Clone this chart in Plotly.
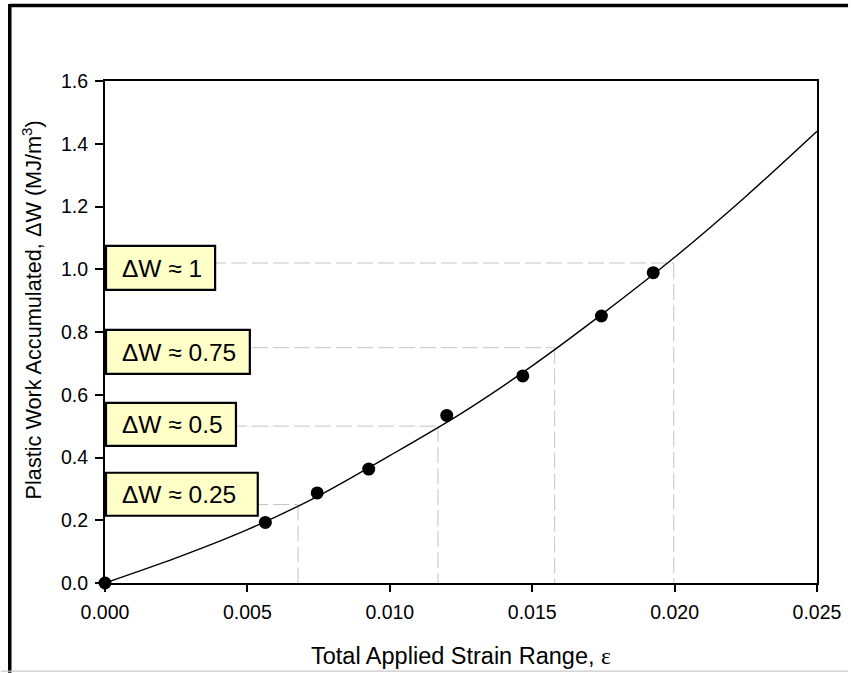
import plotly.graph_objects as go

# Measured points: total applied strain range vs accumulated plastic work (MJ/m^3)
pts_strain = [0.0, 0.00563, 0.00745, 0.00926, 0.0120, 0.01467, 0.01743, 0.01925]
pts_work = [0.0, 0.193, 0.287, 0.363, 0.534, 0.660, 0.851, 0.989]

# Fitted trend curve, sampled along the strain axis
fit_strain = [0.0, 0.0025, 0.005, 0.0075, 0.010, 0.0125, 0.015, 0.0175, 0.020, 0.0225, 0.025]
fit_work = [0.0, 0.080, 0.170, 0.278, 0.406, 0.540, 0.692, 0.860, 1.038, 1.232, 1.44]

# Work levels and the strain at which the curve reaches them
guide_work = [0.25, 0.5, 0.75, 1.02]
guide_strain = [0.00678, 0.01169, 0.01579, 0.01997]
guide_labels = ["ΔW ≈ 0.25", "ΔW ≈ 0.5", "ΔW ≈ 0.75", "ΔW ≈ 1"]

x_ticks = [0.0, 0.005, 0.010, 0.015, 0.020, 0.025]
y_ticks = [0.0, 0.2, 0.4, 0.6, 0.8, 1.0, 1.2, 1.4, 1.6]

W, H = 854, 673
L, R, T, B = 105, 822.7, 81, 583.3
FONT = "Arial, 'Liberation Sans', sans-serif"


def px(xp):
    return (xp - L) / (R - L)


def py(yp):
    return (B - yp) / (B - T)


fig = go.Figure()

# dashed guide lines: horizontal to the curve, then down to the strain axis
gx, gy = [], []
for s, w in zip(guide_strain, guide_work):
    gx += [0.0, s, None]
    gy += [w, w, None]
    gx += [s, s, None]
    gy += [w, 0.0, None]
fig.add_trace(go.Scatter(
    x=gx, y=gy, mode="lines",
    line=dict(color="#c4c4c4", width=1, dash="16px,5px"),
    hoverinfo="skip", showlegend=False,
))

fig.add_trace(go.Scatter(
    x=fit_strain, y=fit_work, mode="lines",
    line=dict(color="black", width=1.4, shape="spline", smoothing=0.8),
    showlegend=False, cliponaxis=False,
))

fig.add_trace(go.Scatter(
    x=pts_strain, y=pts_work, mode="markers",
    marker=dict(color="black", size=13),
    showlegend=False, cliponaxis=False,
))

# label boxes (pixel extents: left, right, top, bottom)
boxes = [
    (105, 260, 472, 517),
    (105, 238, 402, 447),
    (105, 252, 329, 375),
    (105, 217, 245, 291),
]
shapes = []
annotations = []
for (x0, x1, y0, y1), text in zip(boxes, guide_labels):
    shapes.append(dict(
        type="rect", xref="paper", yref="paper",
        x0=px(x0 + 1), x1=px(x1 - 1), y0=py(y1 - 1), y1=py(y0 + 1),
        line=dict(color="black", width=2.2), fillcolor="#ffffc8", layer="above",
    ))
    annotations.append(dict(
        xref="paper", yref="paper", x=px(x0 + 15), y=py((y0 + y1) / 2 + 0.5),
        xanchor="left", yanchor="middle", text=text, showarrow=False,
        font=dict(family=FONT, size=24.5, color="black"),
    ))

# outer frame: thick top and left edges, thin grey bottom edge
shapes += [
    dict(type="line", xref="paper", yref="paper",
         x0=px(9), x1=px(W), y0=py(5.5), y1=py(5.5),
         line=dict(color="black", width=3.5), layer="above"),
    dict(type="line", xref="paper", yref="paper",
         x0=px(9), x1=px(9), y0=py(4), y1=py(H),
         line=dict(color="black", width=3.5), layer="above"),
    dict(type="line", xref="paper", yref="paper",
         x0=px(0), x1=px(W), y0=py(671.5), y1=py(671.5),
         line=dict(color="#c8c8c8", width=1.2), layer="above"),
]

annotations += [
    dict(xref="paper", yref="paper", x=px(464), y=py(656), xanchor="center", yanchor="middle",
         text="Total Applied Strain Range, <span style=\"font-family:'Liberation Serif', serif\">ε</span>",
         showarrow=False, font=dict(family=FONT, size=23.5, color="black")),
    dict(xref="paper", yref="paper", x=px(31), y=py(310), xanchor="center", yanchor="middle",
         text="Plastic Work Accumulated, ΔW (MJ/m<sup>3</sup>)", textangle=-90,
         showarrow=False, font=dict(family=FONT, size=21.7, color="black")),
]

axis_common = dict(
    showgrid=False, zeroline=False, showline=True, linecolor="black", linewidth=2,
    mirror=True, ticks="outside", tickcolor="black", tickwidth=1.5,
    tickfont=dict(family=FONT, size=19.5, color="black"),
)

fig.update_layout(
    width=W, height=H,
    margin=dict(l=L, r=W - R, t=T, b=H - B, pad=0),
    paper_bgcolor="white", plot_bgcolor="white",
    xaxis=dict(range=[0, 0.025], tickvals=x_ticks, tickformat=".3f", ticklen=7,
               ticklabelstandoff=4, **axis_common),
    yaxis=dict(range=[0, 1.6], tickvals=y_ticks, tickformat=".1f", ticklen=8,
               ticklabelstandoff=3, **axis_common),
    shapes=shapes, annotations=annotations,
    showlegend=False,
)

fig.write_html("out.html")
